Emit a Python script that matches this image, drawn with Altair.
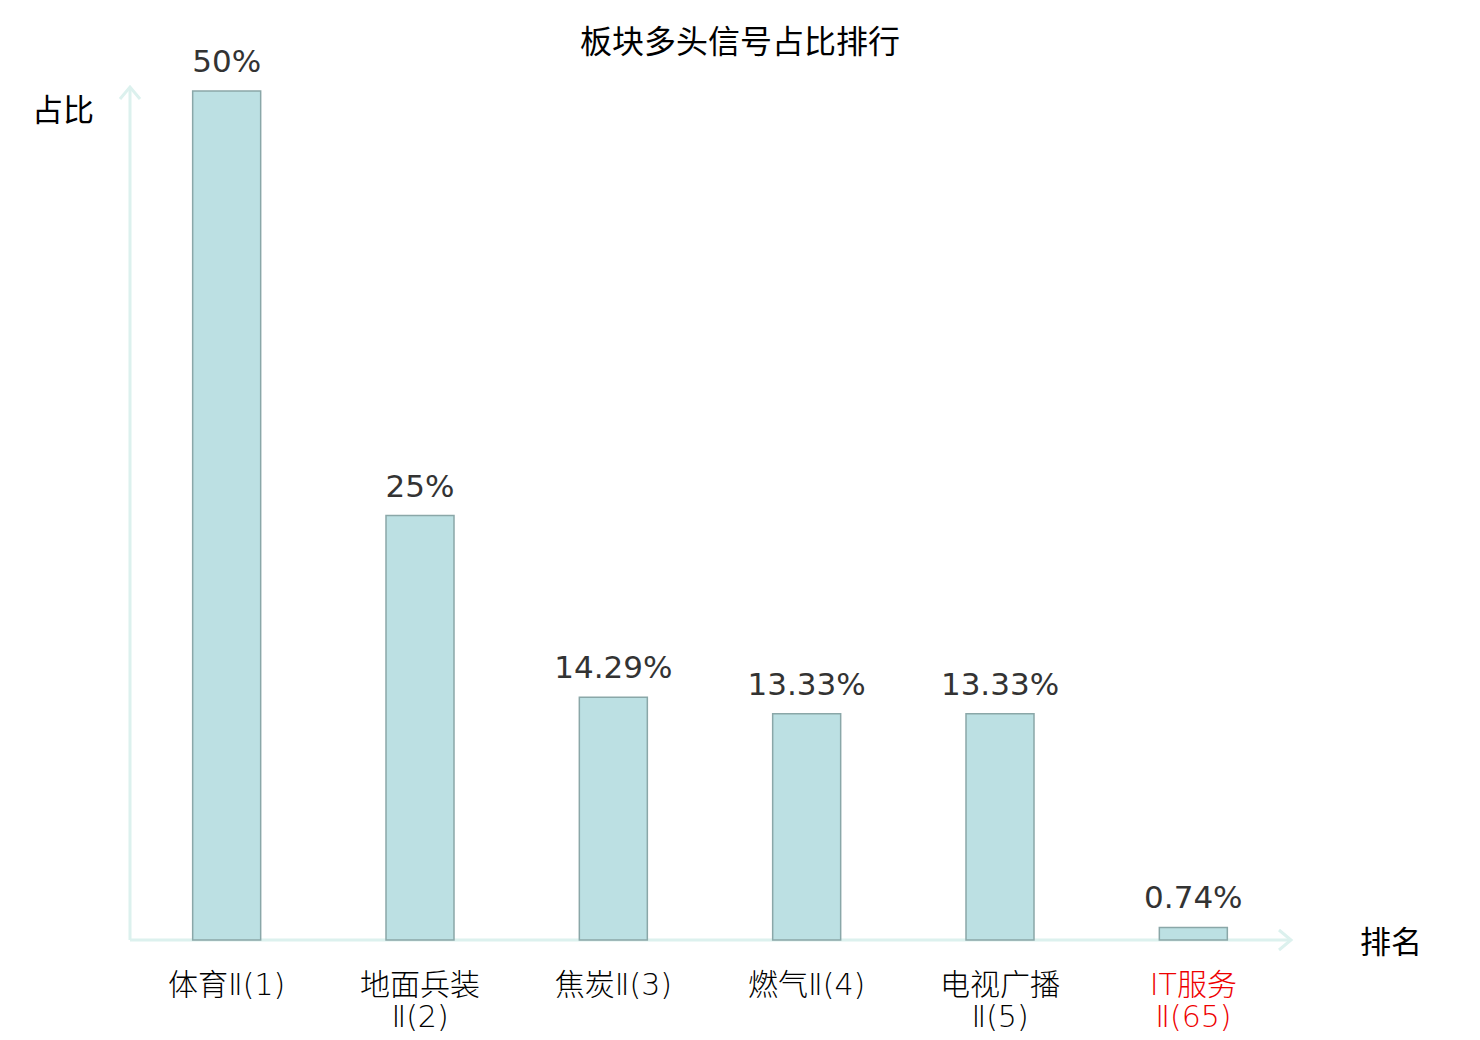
import altair as alt
import pandas as pd

categories = ["体育Ⅱ(1)", "地面兵装|Ⅱ(2)", "焦炭Ⅱ(3)", "燃气Ⅱ(4)", "电视广播|Ⅱ(5)", "IT服务|Ⅱ(65)"]
values = [50, 25, 14.29, 13.33, 13.33, 0.74]
value_labels = ["50%", "25%", "14.29%", "13.33%", "13.33%", "0.74%"]
highlight = "IT服务|Ⅱ(65)"
title_text = "板块多头信号占比排行"
y_title = "占比"
x_title = "排名"

df = pd.DataFrame({"cat": categories, "val": values, "lbl": value_labels})
one = pd.DataFrame({"k": [0]})

W, H = 1160, 849
CJK = "DejaVu Sans, Noto Sans CJK SC"
AXIS_COLOR = "#dcf1ee"

x_enc = alt.X("cat:N", sort=categories,
              scale=alt.Scale(paddingInner=0, paddingOuter=0),
              axis=alt.Axis(title=None, domain=False, ticks=False, labelAngle=0,
                            labelFont=CJK, labelFontSize=30,
                            labelFontWeight=300,
                            labelPadding=30,
                            labelLineHeight=32, labelBaseline="top",
                            labelExpr="split(datum.label, '|')",
                            labelColor=alt.condition(f"datum.value == '{highlight}'",
                                                     alt.value("#ee0000"), alt.value("#000000"))))
y_enc = alt.Y("val:Q", scale=alt.Scale(domain=[0, 50], nice=False), axis=None)

base = alt.Chart(df)
single = alt.Chart(one)

bars = base.mark_bar(size=68, fill="#bce0e3", stroke="#8aa7a8", strokeWidth=1.5).encode(
    x=x_enc, y=y_enc)

texts = base.mark_text(dy=-12, baseline="bottom", font="DejaVu Sans", fontSize=31,
                       color="#333333").encode(x=alt.X("cat:N", sort=categories), y="val:Q", text="lbl:N")

yaxis = single.mark_rule(color=AXIS_COLOR, strokeWidth=3).encode(
    x=alt.value(0), y=alt.value(H), y2=alt.value(-3))
xaxis = single.mark_rule(color=AXIS_COLOR, strokeWidth=3).encode(
    x=alt.value(0), x2=alt.value(W + 1), y=alt.value(H))

chev_up = single.mark_point(shape="M -1 0.6 L 0 -0.6 L 1 0.6", filled=False,
                            stroke=AXIS_COLOR, strokeWidth=3, size=400, opacity=1).encode(
    x=alt.value(0), y=alt.value(2))
chev_right = single.mark_point(shape="M -0.6 -1 L 0.6 0 L -0.6 1", filled=False,
                               stroke=AXIS_COLOR, strokeWidth=3, size=400, opacity=1).encode(
    x=alt.value(W - 5), y=alt.value(H))

ylab = single.mark_text(text=y_title, font=CJK, fontSize=31, color="#000000",
                        align="center", baseline="middle").encode(
    x=alt.value(-67), y=alt.value(21))
xlab = single.mark_text(text=x_title, font=CJK, fontSize=31, color="#000000",
                        align="center", baseline="middle").encode(
    x=alt.value(1261), y=alt.value(853))
title = single.mark_text(text=title_text, font=CJK, fontSize=32, color="#000000",
                         align="center", baseline="middle").encode(
    x=alt.value(610), y=alt.value(-48))

chart = alt.layer(yaxis, xaxis, chev_up, chev_right, bars, texts, ylab, xlab, title).properties(
    width=W, height=H,
    background="white",
    autosize=alt.AutoSizeParams(type="none"),
    padding={"left": 122, "top": 83, "right": 178, "bottom": 92},
).configure_view(strokeWidth=0, stroke="transparent")

chart.save("out.html", embed_options={"renderer": "svg", "actions": False})
